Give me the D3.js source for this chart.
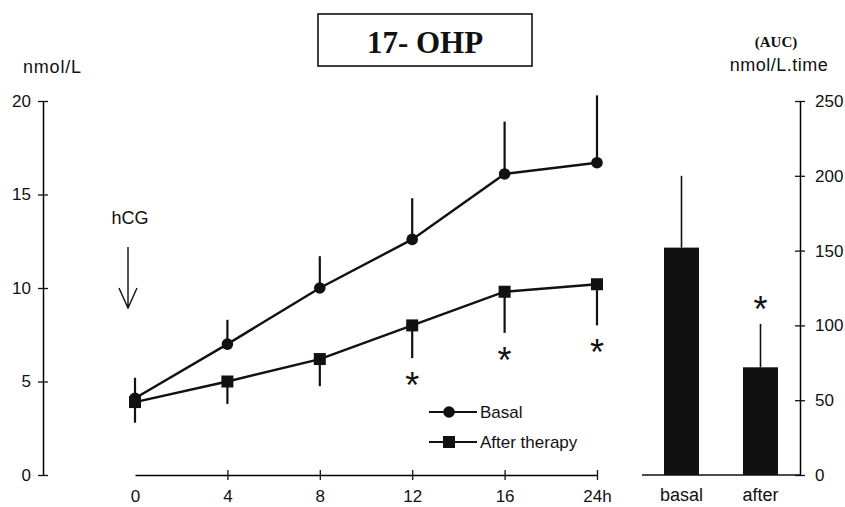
<!DOCTYPE html>
<html>
<head>
<meta charset="utf-8">
<script src="https://cdn.jsdelivr.net/npm/d3@7"></script>
<style>
  html, body { margin: 0; padding: 0; background: #fff; }
  svg { display: block; }
  text { fill: #111; }
</style>
</head>
<body>
<svg id="chart" width="845" height="507"></svg>
<script>
// 17-OHP response to hCG: time course (mean ± SE) and area under the curve
const timeLabels = ["0", "4", "8", "12", "16", "24h"];
const basalMean  = [4.1, 7.0, 10.0, 12.6, 16.1, 16.7];
const basalSE    = [1.1, 1.3, 1.7, 2.2, 2.8, 3.6];
const afterMean  = [3.9, 5.0, 6.2, 8.0, 9.8, 10.2];
const afterSE    = [1.1, 1.2, 1.45, 1.75, 2.2, 2.2];
const afterSignificant = [false, false, false, true, true, true];

const leftTicks = [0, 5, 10, 15, 20];

const aucGroups = ["basal", "after"];
const aucMean   = [152, 72];
const aucSE     = [48, 29];
const aucSignificant = [false, true];
const rightTicks = [0, 50, 100, 150, 200, 250];

const seriesNames = ["Basal", "After therapy"];

const ink = "#111";
const sans = "'Liberation Sans', Arial, sans-serif";
const serif = "'Liberation Serif', 'Times New Roman', serif";

const svg = d3.select("#chart");

// ---- scales ----
const y = d3.scaleLinear().domain([0, 20]).range([475, 101]);
const x = d3.scalePoint().domain(timeLabels).range([135, 597]);
const yAuc = d3.scaleLinear().domain([0, 250]).range([475, 101]);
const xAuc = d3.scaleBand().domain(aucGroups).range([642, 800])
  .paddingInner(0.557).paddingOuter(0.2785);

// ---- title box ----
svg.append("rect").attr("x", 318).attr("y", 14).attr("width", 214).attr("height", 52)
  .attr("fill", "none").attr("stroke", ink).attr("stroke-width", 1.6);
svg.append("text").attr("x", 425).attr("y", 53).attr("text-anchor", "middle")
  .attr("font-family", serif).attr("font-weight", "bold").attr("font-size", 31)
  .text("17- OHP");

// ---- left axis ----
const leftAxis = svg.append("g").attr("transform", "translate(43,0)")
  .call(d3.axisLeft(y).tickValues(leftTicks).tickSize(5).tickSizeOuter(0).tickPadding(7));
leftAxis.selectAll(".tick line").attr("x2", 5).attr("x1", -5);
leftAxis.select(".domain").attr("stroke-width", 1.5);
leftAxis.selectAll("line").attr("stroke", ink).attr("stroke-width", 1.3);
leftAxis.selectAll("text").attr("font-family", sans).attr("font-size", 17).attr("fill", ink).attr("x", -12);

svg.append("text").attr("x", 23).attr("y", 73)
  .attr("font-family", sans).attr("font-size", 18).attr("letter-spacing", 0.8)
  .text("nmol/L");

// ---- time axis ----
const timeAxis = svg.append("g").attr("transform", "translate(0,475)")
  .call(d3.axisBottom(x).tickSize(5).tickSizeOuter(0).tickPadding(10));
timeAxis.selectAll(".tick line").attr("y1", -5).attr("y2", 5);
timeAxis.selectAll(".tick").filter((d, i) => i === 0).select("line").remove();
timeAxis.select(".domain").attr("stroke-width", 1.5);
timeAxis.selectAll("line").attr("stroke", ink).attr("stroke-width", 1.3);
timeAxis.selectAll("text").attr("font-family", sans).attr("font-size", 17).attr("fill", ink)
  .attr("dy", "0.71em");

// ---- hCG marker ----
const hx = 128;
svg.append("text").attr("x", 130).attr("y", 224).attr("text-anchor", "middle")
  .attr("font-family", sans).attr("font-size", 18).text("hCG");
svg.append("path")
  .attr("d", `M${hx},247 L${hx},308 M${hx - 9},288 L${hx},308 L${hx + 9},288`)
  .attr("fill", "none").attr("stroke", ink).attr("stroke-width", 1.4);

// ---- error bars (basal upward, after therapy downward) ----
const gErr = svg.append("g");
gErr.selectAll("line.be").data(timeLabels).join("line").attr("class", "be")
  .attr("x1", d => x(d)).attr("x2", d => x(d))
  .attr("y1", (d, i) => y(basalMean[i])).attr("y2", (d, i) => y(basalMean[i] + basalSE[i]))
  .attr("stroke", ink).attr("stroke-width", 2.2);
gErr.selectAll("line.ae").data(timeLabels).join("line").attr("class", "ae")
  .attr("x1", d => x(d)).attr("x2", d => x(d))
  .attr("y1", (d, i) => y(afterMean[i])).attr("y2", (d, i) => y(afterMean[i] - afterSE[i]))
  .attr("stroke", ink).attr("stroke-width", 2.2);

// ---- lines ----
const line = d3.line().x((d, i) => x(timeLabels[i])).y(d => y(d));
svg.append("path").datum(basalMean).attr("d", line)
  .attr("fill", "none").attr("stroke", ink).attr("stroke-width", 2.4);
svg.append("path").datum(afterMean).attr("d", line)
  .attr("fill", "none").attr("stroke", ink).attr("stroke-width", 2.4);

// ---- markers ----
svg.append("g").selectAll("circle").data(basalMean).join("circle")
  .attr("cx", (d, i) => x(timeLabels[i])).attr("cy", d => y(d)).attr("r", 5.8).attr("fill", ink);
svg.append("g").selectAll("rect").data(afterMean).join("rect")
  .attr("x", (d, i) => x(timeLabels[i]) - 6).attr("y", d => y(d) - 6)
  .attr("width", 12).attr("height", 12).attr("fill", ink);

// ---- significance marks under the after-therapy error bars ----
svg.append("g").selectAll("text").data(timeLabels.filter((d, i) => afterSignificant[i])).join("text")
  .attr("x", d => x(d))
  .attr("y", d => { const i = timeLabels.indexOf(d); return y(afterMean[i] - afterSE[i]) + 40; })
  .attr("text-anchor", "middle").attr("font-family", sans).attr("font-size", 36)
  .text("*");

// ---- legend ----
const legend = svg.append("g");
const legendY = [412, 442];
legend.selectAll("line").data(seriesNames).join("line")
  .attr("x1", 429).attr("x2", 477).attr("y1", (d, i) => legendY[i]).attr("y2", (d, i) => legendY[i])
  .attr("stroke", ink).attr("stroke-width", 2);
legend.append("circle").attr("cx", 449).attr("cy", legendY[0]).attr("r", 5.8).attr("fill", ink);
legend.append("rect").attr("x", 449 - 6).attr("y", legendY[1] - 6)
  .attr("width", 12).attr("height", 12).attr("fill", ink);
legend.selectAll("text").data(seriesNames).join("text")
  .attr("x", 480).attr("y", (d, i) => legendY[i]).attr("dy", "0.36em")
  .attr("font-family", sans).attr("font-size", 17).text(d => d);

// ---- AUC bars ----
svg.append("line").attr("x1", 642).attr("x2", 800).attr("y1", 475).attr("y2", 475)
  .attr("stroke", ink).attr("stroke-width", 1.5);
svg.append("g").selectAll("line").data(aucGroups).join("line")
  .attr("x1", d => xAuc(d) + xAuc.bandwidth() / 2).attr("x2", d => xAuc(d) + xAuc.bandwidth() / 2)
  .attr("y1", (d, i) => yAuc(aucMean[i])).attr("y2", (d, i) => yAuc(aucMean[i] + aucSE[i]))
  .attr("stroke", ink).attr("stroke-width", 1.6);
svg.append("g").selectAll("rect").data(aucGroups).join("rect")
  .attr("x", d => xAuc(d)).attr("width", xAuc.bandwidth())
  .attr("y", (d, i) => yAuc(aucMean[i])).attr("height", (d, i) => yAuc(0) - yAuc(aucMean[i]))
  .attr("fill", ink);
svg.append("g").selectAll("text").data(aucGroups.filter((d, i) => aucSignificant[i])).join("text")
  .attr("x", d => xAuc(d) + xAuc.bandwidth() / 2)
  .attr("y", d => { const i = aucGroups.indexOf(d); return yAuc(aucMean[i] + aucSE[i]) - 2; })
  .attr("text-anchor", "middle").attr("font-family", sans).attr("font-size", 36)
  .text("*");
svg.append("g").selectAll("text").data(aucGroups).join("text")
  .attr("x", d => xAuc(d) + xAuc.bandwidth() / 2).attr("y", 501)
  .attr("text-anchor", "middle").attr("font-family", sans).attr("font-size", 18)
  .text(d => d);

// ---- right axis ----
const rightAxis = svg.append("g").attr("transform", "translate(800,0)")
  .call(d3.axisRight(yAuc).tickValues(rightTicks).tickSize(5).tickSizeOuter(0).tickPadding(10));
rightAxis.selectAll(".tick line").attr("x1", -5).attr("x2", 5);
rightAxis.select(".domain").attr("stroke-width", 1.5);
rightAxis.selectAll("line").attr("stroke", ink).attr("stroke-width", 1.3);
rightAxis.selectAll("text").attr("font-family", sans).attr("font-size", 17).attr("fill", ink).attr("x", 15);

svg.append("text").attr("x", 776).attr("y", 47).attr("text-anchor", "middle")
  .attr("font-family", serif).attr("font-weight", "bold").attr("font-size", 15)
  .text("(AUC)");
svg.append("text").attr("x", 779).attr("y", 71).attr("text-anchor", "middle")
  .attr("font-family", sans).attr("font-size", 18).attr("letter-spacing", 0.5)
  .text("nmol/L.time");
</script>
</body>
</html>
